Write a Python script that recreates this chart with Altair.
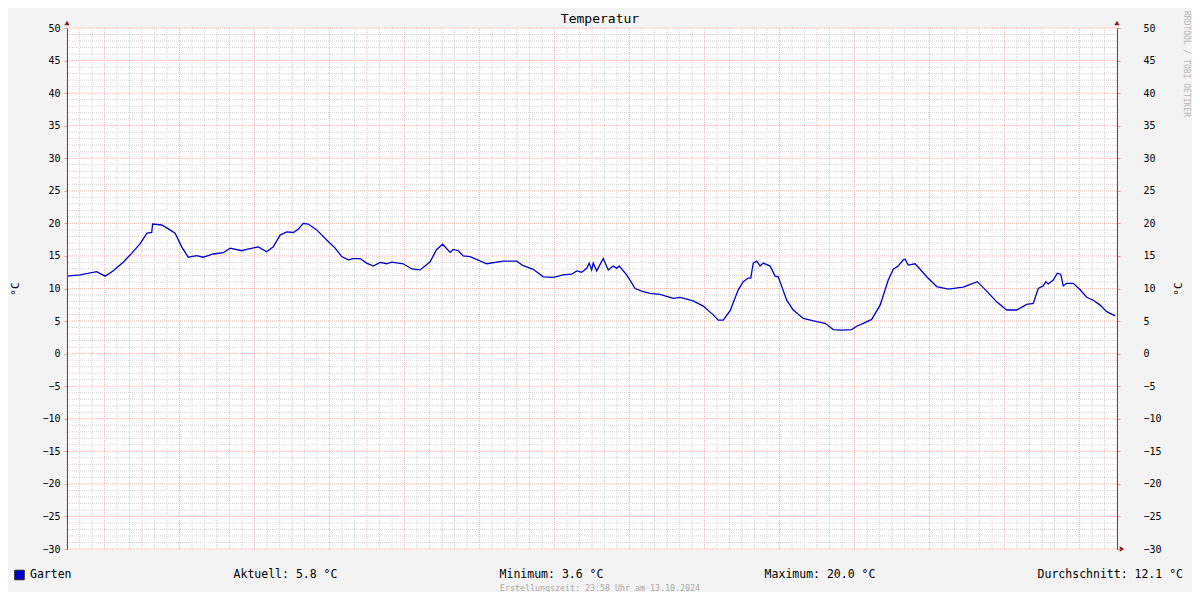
import altair as alt
import pandas as pd

# ---------------- data ----------------
HOURS = [0, 2.1, 4.75, 6.1, 7.35, 8.95, 10.35, 11.7, 12.8, 13.55, 13.7, 15.15, 16.15, 17.3, 18.35,
         19.4, 20.75, 21.8, 23.4, 25.0, 26.1, 27.95, 28.75, 30.6, 31.95, 33.0, 34.1, 35.15, 36.2,
         37.0, 37.8, 38.6, 39.95, 41.55, 42.9, 43.95, 45.0, 45.8, 46.9,
         47.95, 49.0, 50.1, 51.15, 51.95, 53.8, 55.15, 56.5, 58.1, 59.15, 60.1, 61.3, 61.8, 62.6,
         63.4, 64.5, 67.15, 69.8, 71.95, 73.0, 74.6, 76.2, 77.8, 79.4, 80.75, 81.55, 82.35, 83.15,
         83.55, 83.95, 84.2, 84.75, 85.8, 86.6, 87.4, 87.95, 88.35, 89.55, 90.9, 91.95, 93.3, 94.9,
         97.0, 98.1, 100.2, 101.8, 103.4, 104.2, 105.0, 106.1, 107.4, 108.2, 109.0, 109.4, 109.8,
         110.35, 110.9, 111.4, 112.5, 113.3, 113.8, 115.15, 116.2, 117.8, 119.95, 121.3, 122.6,
         123.95, 125.55, 126.35, 127.4, 128.75, 130.1, 131.4, 132.2, 133.0, 133.8, 134.1, 134.6,
         135.7, 136.5, 137.55, 139.15, 141.0, 143.4, 144.75, 145.65, 147.15, 148.75, 150.35,
         151.95, 153.55, 154.6, 155.4, 156.2, 156.6, 157.0, 157.8, 158.45, 159.0, 159.4, 159.95,
         161.0, 162.1, 163.15, 164.2, 165.3, 166.35, 167.7]
TEMPS = [11.9, 12.1, 12.6, 11.9, 12.7, 14.0, 15.4, 16.9, 18.5, 18.6, 19.9, 19.75, 19.2, 18.5, 16.4,
         14.8, 15.05, 14.8, 15.3, 15.5, 16.2, 15.8, 16.0, 16.4, 15.65, 16.4, 18.2, 18.7, 18.6,
         19.1, 20.0, 19.9, 19.0, 17.45, 16.2, 14.9, 14.4, 14.6, 14.6,
         13.9, 13.45, 14.0, 13.8, 14.05, 13.8, 13.0, 12.85, 14.1, 16.0, 16.8, 15.55, 16.0, 15.8,
         15.0, 14.9, 13.8, 14.2, 14.2, 13.5, 12.95, 11.8, 11.7, 12.1, 12.2, 12.7, 12.5, 13.1,
         13.9, 12.85, 13.9, 12.7, 14.6, 12.85, 13.45, 13.1, 13.45, 12.1, 10.0, 9.6, 9.25, 9.1,
         8.5, 8.65, 8.1, 7.3, 5.95, 5.15, 5.15, 6.6, 9.8, 11.05, 11.6, 11.6, 13.9,
         14.2, 13.45, 13.9, 13.45, 11.9, 11.8, 8.2, 6.7, 5.4, 4.9, 4.65, 3.7,
         3.6, 3.7, 4.2, 4.65, 5.25, 7.45, 11.3, 12.95, 13.45, 14.4, 14.5, 13.6,
         13.8, 12.95, 11.8, 10.3, 9.9, 10.2, 10.7, 11.05, 9.6, 7.95, 6.7,
         6.7, 7.55, 7.7, 10.0, 10.4, 11.05, 10.7, 11.3, 12.35, 12.2, 10.4, 10.8,
         10.8, 9.8, 8.65, 8.2, 7.45, 6.45, 5.8]

DAY_LABELS = ["Mon 00:00", "Mon 12:00", "Tue 00:00", "Tue 12:00", "Wed 00:00", "Wed 12:00",
              "Thu 00:00", "Thu 12:00", "Fri 00:00", "Fri 12:00", "Sat 00:00", "Sat 12:00",
              "Sun 00:00", "Sun 12:00"]
X_DOMAIN = [0, 168]
Y_DOMAIN = [-30, 50]
X_MINOR = [h for h in range(0, 169, 2) if h % 6 != 0]
X_MAJOR = list(range(0, 169, 6))
Y_MINOR = [v for v in range(-30, 51) if v % 5 != 0]
Y_MAJOR = list(range(-30, 51, 5))

TITLE = "Temperatur"
UNIT = "°C"
SERIES_NAME = "Garten"
STAT_TEXTS = ["Aktuell: 5.8 °C", "Minimum: 3.6 °C", "Maximum: 20.0 °C", "Durchschnitt: 12.1 °C"]
FOOTER = "Erstellungszeit: 23:58 Uhr am 13.10.2024"
WATERMARK = "RRDTOOL / TOBI OETIKER"

# ---------------- styling ----------------
FONT = "DejaVu Sans Mono"
LINE_COLOR = "#0000cc"
MINOR = "#d4d4d4"
MAJOR = "#f0baba"
TICK = "#e29a9a"
AXIS_COLOR = "#505050"
ARROW_COLOR = "#8b1a1a"
W, H = 1050, 521

df = pd.DataFrame({"h": HOURS, "t": TEMPS})
one = pd.DataFrame({"k": [0]})

labels_js = "[" + ",".join("'" + s + "'" for s in DAY_LABELS) + "]"
x_label_expr = ("(datum.value % 12 === 0 && datum.value < 168) ? "
                + labels_js + "[datum.value / 12] : ''")

x_scale = alt.Scale(domain=X_DOMAIN, nice=False, zero=False)
y_scale = alt.Scale(domain=Y_DOMAIN, nice=False, zero=False)

x_axis = alt.Axis(
    values=X_MAJOR, labelExpr=x_label_expr, title=None, labelOverlap=False, labelFlush=False,
    labelFont=FONT, labelFontSize=10, labelColor="#000000", labelPadding=1,
    tickSize=3, tickColor=TICK,
    grid=False, domainColor=AXIS_COLOR, domainWidth=1, zindex=2,
)

y_axis_left = alt.Axis(
    values=Y_MAJOR, labelOverlap=False,
    labelFlush=False, labelFont=FONT, labelFontSize=10, labelColor="#000000", labelPadding=4,
    tickSize=3, tickColor=TICK,
    grid=False, domainColor=AXIS_COLOR, domainWidth=1, zindex=2,
    title=UNIT, titleFont=FONT, titleFontSize=11, titleFontWeight="normal", titleColor="#000000",
    titleAngle=270, titleX=-52, titleY=H / 2, titleAlign="center", titleBaseline="middle",
)

y_axis_right = alt.Axis(
    orient="right",
    values=Y_MAJOR, labelOverlap=False,
    labelFlush=False, labelFont=FONT, labelFontSize=10, labelColor="#000000", labelPadding=23,
    labelAlign="left",
    tickSize=3, tickColor=TICK,
    grid=False, domainColor=AXIS_COLOR, domainWidth=1, zindex=2,
    title=UNIT, titleFont=FONT, titleFontSize=11, titleFontWeight="normal", titleColor="#000000",
    titleAngle=270, titleX=61, titleY=H / 2, titleAlign="center", titleBaseline="middle",
)


def vgrid(values, color):
    return alt.Chart(pd.DataFrame({"h": values})).mark_rule(
        strokeWidth=1, strokeDash=[1, 1], color=color
    ).encode(x=alt.X("h:Q", scale=x_scale, axis=None))


def hgrid(values, color):
    return alt.Chart(pd.DataFrame({"t": values})).mark_rule(
        strokeWidth=1, strokeDash=[1, 1], color=color
    ).encode(y=alt.Y("t:Q", scale=y_scale, axis=None))


grids = [vgrid(X_MINOR, MINOR), hgrid(Y_MINOR, MINOR), vgrid(X_MAJOR, MAJOR), hgrid(Y_MAJOR, MAJOR)]

line = alt.Chart(df).mark_line(color=LINE_COLOR, strokeWidth=1.3).encode(
    x=alt.X("h:Q", scale=x_scale, axis=x_axis),
    y=alt.Y("t:Q", scale=y_scale, axis=y_axis_left),
)

right = alt.Chart(df).mark_line(opacity=0).encode(
    x=alt.X("h:Q", scale=x_scale, axis=None),
    y=alt.Y("t:Q", scale=y_scale, axis=y_axis_right),
)


def arrow(xv, yv, shape, dx, dy):
    return alt.Chart(one).mark_point(
        shape=shape, filled=True, color=ARROW_COLOR, size=28, opacity=1,
        xOffset=dx, yOffset=dy,
    ).encode(
        x=alt.XDatum(xv, type="quantitative", axis=None, scale=x_scale),
        y=alt.YDatum(yv, type="quantitative", axis=None, scale=y_scale),
    )


arrows = [
    arrow(X_DOMAIN[0], Y_DOMAIN[1], "triangle-up", 0, -5),
    arrow(X_DOMAIN[1], Y_DOMAIN[1], "triangle-up", 0, -5),
    arrow(X_DOMAIN[1], Y_DOMAIN[0], "triangle-right", 5, 0),
]


def label(text, x, y, size=11.5, color="#000000", align="center", angle=0, baseline="middle"):
    return alt.Chart(one).mark_text(
        font=FONT, fontSize=size, color=color, align=align, baseline=baseline, angle=angle,
    ).encode(x=alt.value(x), y=alt.value(y), text=alt.value(text))


texts = [
    label(TITLE, 533, -9, size=13),
    label(SERIES_NAME, -37, 547, align="left"),
    label(STAT_TEXTS[0], 218.5, 547),
    label(STAT_TEXTS[1], 484.5, 547),
    label(STAT_TEXTS[2], 753, 547),
    label(STAT_TEXTS[3], 1116, 547, align="right"),
    label(FOOTER, 533, 561, size=8.3, color="#a8a8a8"),
    label(WATERMARK, 1119, 36, size=8, color="#b4b4b4", angle=90),
]

swatch = alt.Chart(one).mark_point(
    shape="square", filled=True, fill=LINE_COLOR, stroke="#202020", strokeWidth=1,
    size=90, opacity=1,
).encode(x=alt.value(-47.5), y=alt.value(547))

chart = alt.layer(*grids, line, right, *arrows, swatch, *texts).resolve_axis(
    y="independent"
).properties(
    width=W, height=H,
    autosize=alt.AutoSizeParams(type="none"),
    padding={"left": 59, "top": 20, "right": 75, "bottom": 43},
    background="#f3f3f3",
).configure_view(stroke="transparent", fill="#ffffff")

chart.save("out.html", embed_options={"renderer": "svg", "actions": False})
